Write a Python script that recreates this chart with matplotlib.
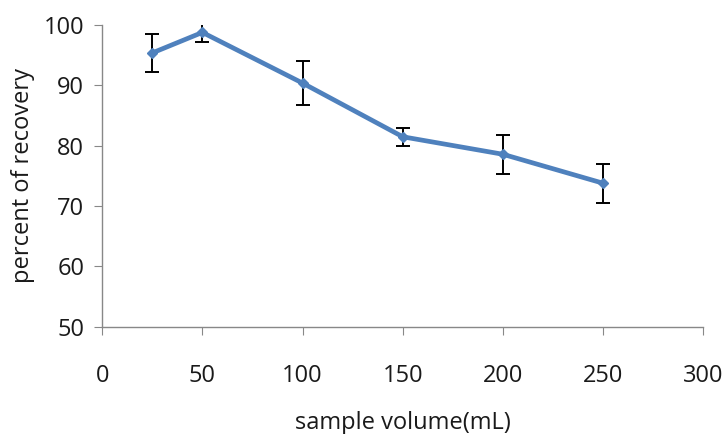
import matplotlib
matplotlib.use("Agg")
import matplotlib.pyplot as plt

# sample volume (mL) vs recovery (%)
volumes = [25, 50, 100, 150, 200, 250]
recovery = [95.4, 98.8, 90.4, 81.5, 78.6, 73.8]
errors = [3.1, 1.6, 3.6, 1.45, 3.2, 3.2]

x_ticks = [0, 50, 100, 150, 200, 250, 300]
y_ticks = [50, 60, 70, 80, 90, 100]

plt.rcParams['font.family'] = ['Open Sans', 'DejaVu Sans']

fig = plt.figure(figsize=(7.25, 4.34), dpi=100)
ax = fig.add_axes([0.141, 0.247, 0.829, 0.695])

ax.errorbar(volumes, recovery, yerr=errors, color='#4F81BD', linewidth=3.4,
            marker='D', markersize=5, ecolor='black', elinewidth=1.4,
            capsize=5, capthick=1.4, zorder=3)

ax.set_xlim(0, 300)
ax.set_ylim(50, 100)
ax.set_xticks(x_ticks)
ax.set_yticks(y_ticks)

for side in ['top', 'right']:
    ax.spines[side].set_visible(False)
for side in ['left', 'bottom']:
    ax.spines[side].set_color('#888888')
    ax.spines[side].set_linewidth(1)

ax.tick_params(axis='both', direction='out', length=6, color='#888888',
               labelsize=17, labelcolor='#1a1a1a')
ax.tick_params(axis='x', pad=21)
ax.tick_params(axis='y', pad=7)

ax.set_xlabel('sample volume(mL)', fontsize=17, color='#1a1a1a', labelpad=16)
ax.set_ylabel('percent of recovery', fontsize=17, color='#1a1a1a', labelpad=6)

plt.savefig('out.png', dpi=100)
